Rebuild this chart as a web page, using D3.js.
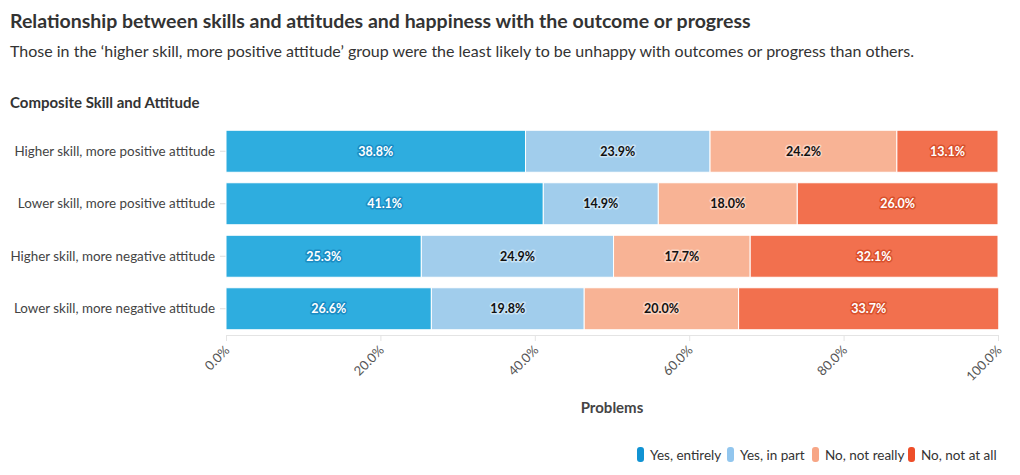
<!DOCTYPE html>
<html><head><meta charset="utf-8">
<script src="https://cdn.jsdelivr.net/npm/d3@7"></script>
<style>
body{margin:0;background:#fff;}
svg text{font-family:Lato,"Noto Sans",sans-serif;}
</style></head><body>
<svg id="c" width="1020" height="475"></svg>
<script>
const categories = ["Higher skill, more positive attitude","Lower skill, more positive attitude","Higher skill, more negative attitude","Lower skill, more negative attitude"];
const seriesNames = ["Yes, entirely","Yes, in part","No, not really","No, not at all"];
const yesEntirely = [38.8, 41.1, 25.3, 26.6];
const yesInPart = [23.9, 14.9, 24.9, 19.8];
const noNotReally = [24.2, 18.0, 17.7, 20.0];
const noNotAtAll = [13.1, 26.0, 32.1, 33.7];
const tickValues = [0,20,40,60,80,100];

const seriesVals = [yesEntirely, yesInPart, noNotReally, noNotAtAll];
const barColors = ["#2eaddf","#a1cdec","#f8b395","#f2704e"];
const legendColors = ["#1193d3","#92c6ee","#f7a686","#ee4e29"];
const labelFill = ["#fff","#111","#111","#fff"];
const labelHalo = ["#1a8cc4","#c9e3f5","#fbd3c1","#d9502c"];

const svg = d3.select("#c");
const x = d3.scaleLinear().domain([0,100]).range([226,998]);
const y = d3.scaleBand().domain(categories).range([125,335]).paddingInner(0.2).paddingOuter(0.1);

svg.append("text").attr("x",10).attr("y",28).attr("font-size",19.5).attr("font-weight",700).attr("fill","#333")
  .text("Relationship between skills and attitudes and happiness with the outcome or progress");
svg.append("text").attr("x",10).attr("y",57).attr("font-size",16).attr("fill","#333")
  .text("Those in the ‘higher skill, more positive attitude’ group were the least likely to be unhappy with outcomes or progress than others.");
svg.append("text").attr("x",10).attr("y",108).attr("font-size",15).attr("font-weight",700).attr("fill","#333")
  .text("Composite Skill and Attitude");

// y axis
const ya = svg.append("g").attr("transform","translate(226,0)").call(d3.axisLeft(y).tickSize(6).tickPadding(5));
ya.select(".domain").remove();
ya.selectAll(".tick line").attr("stroke","#ddd");
ya.selectAll(".tick text").attr("font-size",13.4).attr("fill","#444");

// x axis
const xa = svg.append("g").attr("transform","translate(0,335)").call(d3.axisBottom(x).tickValues(tickValues).tickFormat(d=>d.toFixed(1)+"%").tickSize(6).tickSizeOuter(0));
xa.select(".domain").attr("stroke","#e4e4e4");
xa.selectAll(".tick line").attr("stroke","#e4e4e4");
xa.selectAll(".tick text").attr("font-size",13).attr("fill","#555")
  .attr("text-anchor","end").attr("dy",null).attr("y",0)
  .attr("transform","translate(4,16) rotate(-45)");

svg.append("text").attr("x",612).attr("y",413).attr("text-anchor","middle").attr("font-size",15).attr("font-weight",700).attr("fill","#444").text("Problems");

// stacked bars
const rows = categories.map((c,i)=>{ const o={cat:c}; seriesNames.forEach((s,j)=>o[s]=seriesVals[j][i]); return o;});
const stack = d3.stack().keys(seriesNames)(rows);
const g = svg.append("g");
stack.forEach((layer,j)=>{
  g.selectAll(null).data(layer).join("rect")
    .attr("x",d=>x(d[0])).attr("y",d=>y(d.data.cat))
    .attr("width",d=>x(d[1])-x(d[0])).attr("height",y.bandwidth())
    .attr("fill",barColors[j]).attr("stroke","#fff").attr("stroke-width",1);
});
stack.forEach((layer,j)=>{
  g.selectAll(null).data(layer).join("text")
    .attr("x",d=>(x(d[0])+x(d[1]))/2).attr("y",d=>y(d.data.cat)+y.bandwidth()/2)
    .attr("dy","0.35em").attr("text-anchor","middle")
    .attr("font-size",12.5).attr("font-weight",700)
    .attr("fill",labelFill[j]).attr("stroke",labelHalo[j]).attr("stroke-width",3)
    .attr("stroke-linejoin","round").attr("paint-order","stroke")
    .text(d=>(d[1]-d[0]).toFixed(1)+"%");
});

// legend
const legendX = [637,727,812,908];
const lg = svg.append("g");
seriesNames.forEach((s,i)=>{
  lg.append("rect").attr("x",legendX[i]).attr("y",447).attr("width",7).attr("height",15).attr("rx",3).attr("fill",legendColors[i]);
  lg.append("text").attr("x",legendX[i]+13).attr("y",460).attr("font-size",13.5).attr("fill","#333").text(s);
});
</script>
</body></html>
